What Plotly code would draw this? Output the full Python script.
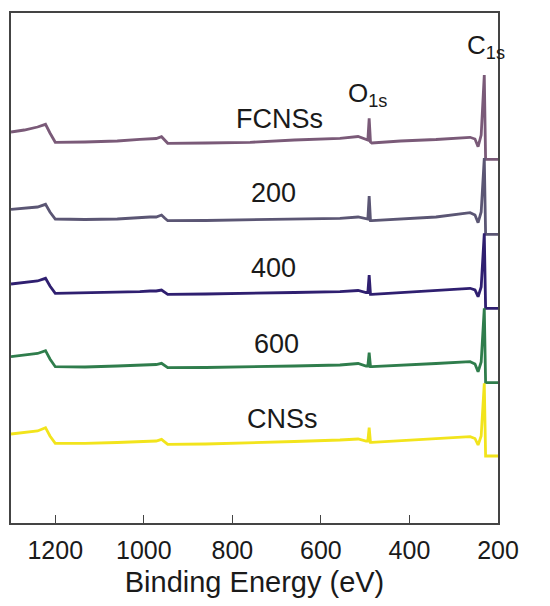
import plotly.graph_objects as go

# Binding energy sample points (eV), shared by all spectra
energy = [1300, 1270, 1240, 1222, 1212, 1200, 1133, 1060, 1009, 986, 972, 960, 953, 946,
          860, 760, 660, 557, 516, 498, 494, 491, 488, 485, 420, 340, 263, 252, 245,
          238, 231, 228, 225, 200]

# Intensities (a.u., offset stacked)
fcnss = [388, 390, 393, 395.7, 387, 377.7, 378, 379, 380.7, 381, 381.5, 383.3, 380, 376.7,
         377, 377.7, 380, 381.7, 383.5, 380, 380, 401.7, 378, 377, 379, 380.5, 382.7, 381, 373.3,
         385, 445, 360.7, 360.7, 360.7]
s200 = [310.7, 312, 313, 315.7, 308, 301, 300.5, 301, 302.7, 303, 303, 305, 302, 299.3,
        299.5, 300, 301, 301.7, 303, 301, 301, 324, 299.3, 299.3, 301, 303, 307.3, 305, 297.3,
        308, 362, 285.7, 285.7, 285.7]
s400 = [236, 237.5, 239, 241.7, 234, 226.7, 227, 227.5, 228.3, 229, 229, 230, 228, 225.7,
        226, 226.5, 227.5, 228.3, 229.5, 227.5, 227.5, 245, 225.7, 225.7, 227.5, 229.5, 231.7, 230, 223.3,
        233, 286.7, 211.7, 211.7, 211.7]
s600 = [163.3, 165, 166.5, 169.3, 161, 153.3, 153, 154, 155, 155.5, 155.5, 156.7, 154.5, 152.3,
        152.5, 153, 154, 155, 156.5, 154, 154, 167.3, 153.3, 153.3, 155, 156.5, 158.3, 156, 148.3,
        158, 211.7, 137.3, 137.3, 137.3]
cnss = [86, 87.5, 89, 92.3, 84, 76.7, 76.7, 77.5, 78.3, 79, 79, 80.7, 78, 75.7,
        76, 77, 78.5, 80, 81, 79, 79, 92.3, 77.7, 77.7, 79.5, 81, 83.3, 81.5, 75,
        84, 136.7, 64, 64, 64]

series_names = ["FCNSs", "200", "400", "600", "CNSs"]
series_values = [fcnss, s200, s400, s600, cnss]
series_colors = ["#7a5a78", "#5b5674", "#2f1f70", "#2f7d4c", "#f2e41c"]

x_ticks = [1200, 1000, 800, 600, 400, 200]

fig = go.Figure()
for name, vals, col in zip(series_names, series_values, series_colors):
    fig.add_trace(go.Scatter(x=energy, y=vals, mode="lines", name=name,
                             line=dict(color=col, width=2.8), showlegend=False))

font_main = "Liberation Sans, Arial, sans-serif"
txt_col = "#1a1a1a"

# series labels (data coordinates)
label_pos = {"FCNSs": (693, 401), "200": (706, 327), "400": (706, 252),
             "600": (700, 176), "CNSs": (687, 101)}
for name in series_names:
    x, y = label_pos[name]
    fig.add_annotation(x=x, y=y, text=name, showarrow=False,
                       font=dict(size=27, color=txt_col, family=font_main))

fig.add_annotation(x=494, y=426, text="O<sub>1s</sub>", showarrow=False,
                   font=dict(size=26, color=txt_col, family=font_main))
fig.add_annotation(x=227, y=474, text="C<sub>1s</sub>", showarrow=False,
                   font=dict(size=26, color=txt_col, family=font_main))

fig.update_layout(
    width=542, height=598,
    margin=dict(l=3, r=52, t=5, b=83),
    paper_bgcolor="white", plot_bgcolor="white",
    font=dict(family=font_main, color=txt_col),
)
fig.update_xaxes(
    range=[1300, 200], tickvals=x_ticks, ticktext=[str(t) for t in x_ticks],
    ticks="inside", ticklen=8, tickwidth=1.3, tickcolor="#444",
    showline=True, linecolor="#444", linewidth=1.5, mirror=True,
    showgrid=False, zeroline=False,
    tickfont=dict(size=25, color=txt_col), ticklabelstandoff=4,
    title=dict(text="Binding Energy (eV)", font=dict(size=29, color=txt_col), standoff=9),
)
fig.update_yaxes(
    range=[-3, 507], showticklabels=False, ticks="",
    showline=True, linecolor="#444", linewidth=1.5, mirror=True,
    showgrid=False, zeroline=False,
)

fig.write_html("out.html")
